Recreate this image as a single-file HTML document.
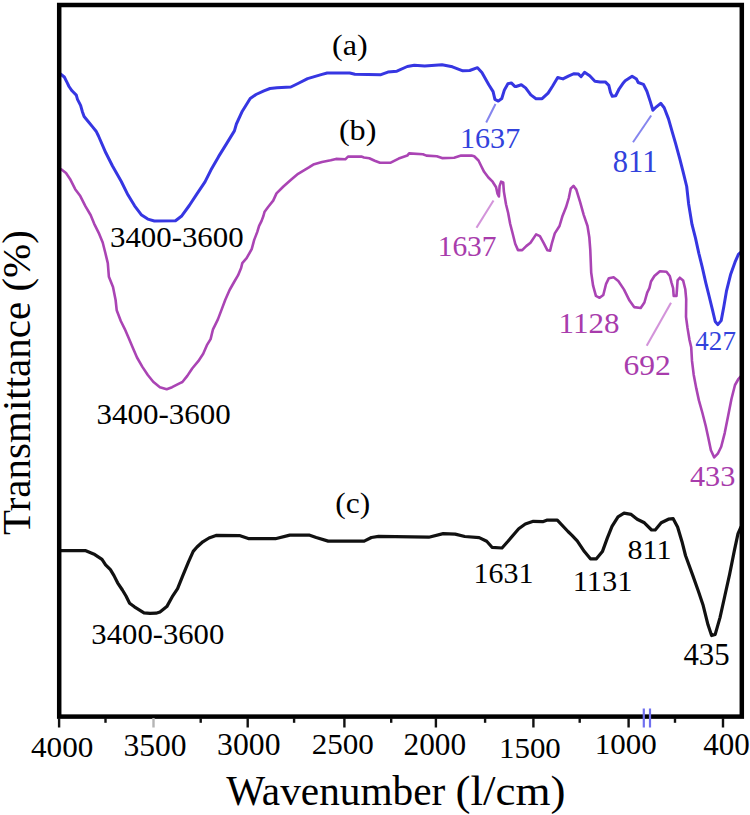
<!DOCTYPE html>
<html><head><meta charset="utf-8"><style>
html,body{margin:0;padding:0;background:#fff;width:750px;height:815px;overflow:hidden;}
svg{display:block;}
text{font-family:"Liberation Serif", serif;}
</style></head><body>
<svg width="750" height="815" viewBox="0 0 750 815" font-family='"Liberation Serif", serif'>
<rect width="750" height="815" fill="#fff"/>
<path d="M60.5,74.0 L64.3,77.0 L66.9,82.2 L69.0,86.5 L72.0,90.8 L76.3,95.1 L77.5,99.4 L80.6,105.4 L82.3,111.4 L84.1,116.5 L88.4,121.7 L92.6,126.9 L96.1,131.2 L98.5,136.0 L105.8,152.8 L112.5,166.0 L121.3,181.5 L127.9,194.8 L134.6,205.8 L141.2,214.7 L147.8,219.1 L154.4,221.0 L175.5,220.8 L181.4,216.3 L189.3,205.5 L197.1,193.7 L205.0,181.9 L210.9,170.1 L218.7,156.4 L226.6,143.6 L234.4,130.9 L236.4,124.0 L242.3,111.2 L250.2,98.5 L256.0,94.5 L263.9,90.8 L270.0,88.5 L276.9,87.7 L290.8,87.0 L298.0,83.5 L307.6,78.6 L322.0,74.4 L327.2,73.0 L349.7,73.0 L354.9,74.3 L380.9,74.7 L387.9,72.1 L396.9,71.2 L407.3,66.5 L414.3,65.3 L424.7,65.9 L442.0,64.7 L452.4,66.8 L462.8,70.8 L469.7,70.5 L477.5,67.7 L481.9,72.5 L488.8,84.7 L493.1,91.6 L494.9,99.4 L498.3,101.1 L501.8,98.5 L504.4,89.9 L507.9,83.8 L511.3,82.9 L514.8,86.4 L516.1,86.5 L521.3,84.8 L525.6,87.9 L530.8,94.9 L536.0,98.7 L542.1,98.7 L548.1,93.1 L552.5,86.2 L557.7,77.5 L562.9,78.9 L568.9,75.8 L574.1,73.7 L578.5,74.1 L581.1,76.7 L584.5,72.3 L589.7,75.8 L594.9,81.3 L600.1,81.9 L605.3,81.9 L608.8,85.3 L610.5,92.3 L612.3,96.3 L615.7,95.7 L619.2,88.8 L623.5,82.7 L625.2,80.8 L632.1,76.3 L636.5,79.1 L638.2,82.5 L643.4,84.3 L646.9,91.2 L650.3,101.6 L652.9,110.3 L656.4,106.8 L660.7,103.3 L664.2,107.7 L668.5,118.9 L672.0,131.1 L675.5,143.2 L679.8,158.8 L683.3,172.7 L686.7,186.5 L688.6,203.7 L692.0,224.4 L695.5,238.1 L698.9,253.6 L702.3,267.3 L705.8,282.8 L709.2,296.5 L712.6,310.3 L715.2,321.5 L717.8,324.6 L721.2,320.6 L723.8,306.8 L726.4,291.4 L730.7,274.2 L735.0,262.2 L738.4,254.4 L741.0,252.0" fill="none" stroke="#3636e2" stroke-width="3" stroke-linejoin="round" stroke-linecap="round"/>
<path d="M61.5,169.5 L66.0,173.0 L70.0,178.9 L75.2,189.2 L80.3,196.1 L85.5,206.4 L90.6,215.0 L94.1,223.6 L99.2,233.9 L102.7,242.5 L105.3,252.8 L107.8,263.1 L108.9,276.8 L113.0,287.1 L115.6,300.0 L116.7,310.2 L120.8,321.0 L124.8,329.1 L128.9,338.6 L132.9,348.0 L137.0,357.5 L142.4,366.9 L147.8,375.0 L153.2,381.8 L159.9,387.2 L166.7,389.2 L172.1,387.2 L180.0,383.1 L182.4,382.0 L187.3,375.9 L192.2,368.5 L198.3,361.2 L203.2,353.8 L206.9,345.2 L210.6,339.1 L213.0,329.3 L217.9,319.4 L221.6,309.6 L225.3,299.8 L229.6,290.0 L234.4,281.5 L238.0,275.4 L241.1,268.0 L242.3,263.1 L246.6,258.2 L251.7,249.1 L254.2,239.9 L257.3,231.9 L259.1,225.8 L261.6,220.9 L263.4,216.0 L264.6,211.7 L268.3,206.7 L273.2,200.6 L276.5,193.4 L283.4,186.5 L291.3,179.6 L298.1,173.8 L308.9,167.4 L313.3,164.6 L322.0,162.0 L330.7,160.3 L336.0,158.9 L345.3,159.3 L348.0,156.6 L361.3,156.6 L364.0,157.5 L369.3,158.2 L374.7,160.7 L380.0,162.7 L390.7,162.7 L398.7,158.6 L407.3,155.6 L409.1,153.4 L422.9,154.3 L426.4,155.6 L436.8,156.3 L442.0,158.1 L454.1,157.7 L461.1,155.6 L471.5,155.6 L474.2,156.3 L478.5,160.5 L481.3,166.2 L484.1,171.8 L488.4,177.5 L492.6,181.7 L496.1,187.3 L497.5,193.7 L498.9,196.5 L499.6,185.9 L501.1,181.7 L503.2,182.4 L503.9,191.6 L506.0,204.3 L508.1,212.7 L510.2,224.0 L512.4,232.5 L515.2,243.8 L518.0,250.1 L522.2,250.1 L526.5,245.9 L530.5,242.8 L536.1,234.4 L539.9,236.2 L543.6,242.8 L547.3,250.2 L550.1,250.6 L552.0,242.8 L554.8,233.4 L559.5,226.0 L562.3,216.6 L566.0,207.3 L568.8,198.0 L570.7,188.7 L573.5,185.9 L576.3,189.6 L580.0,201.7 L583.7,214.8 L587.5,226.0 L589.3,237.2 L590.3,250.2 L591.2,272.6 L593.1,285.7 L595.9,295.9 L599.6,297.8 L603.3,295.0 L606.1,283.8 L608.9,278.2 L613.6,277.3 L618.3,281.0 L623.9,289.4 L629.5,300.6 L634.1,307.1 L640.7,308.0 L644.4,302.5 L647.2,292.6 L649.4,288.1 L651.0,281.5 L654.4,276.0 L659.9,271.2 L666.5,271.8 L669.8,276.0 L671.5,282.6 L673.1,288.1 L673.7,295.9 L676.5,295.9 L677.6,280.4 L679.8,277.7 L683.1,280.4 L685.3,289.3 L686.2,299.2 L686.0,316.9 L687.5,327.9 L689.5,340.0 L691.2,347.2 L692.0,360.9 L693.7,374.7 L696.3,388.4 L698.9,400.4 L702.3,412.5 L705.8,426.2 L708.4,438.2 L710.9,450.3 L714.2,457.4 L717.8,453.7 L721.2,446.8 L724.7,433.1 L728.1,415.9 L731.5,398.7 L735.0,385.0 L738.4,379.0 L741.0,376.0" fill="none" stroke="#aa44b4" stroke-width="2.6" stroke-linejoin="round" stroke-linecap="round"/>
<path d="M59.8,550.6 L85.2,550.6 L94.8,554.6 L102.0,559.4 L105.6,564.8 L110.4,569.6 L114.0,575.6 L117.6,582.8 L122.4,590.0 L126.0,596.0 L129.6,603.2 L134.4,606.8 L144.0,612.8 L150.0,613.4 L156.0,613.2 L160.0,612.0 L166.8,606.6 L172.8,595.8 L177.6,588.6 L182.4,576.6 L188.4,562.2 L193.2,551.4 L197.0,547.0 L202.8,541.8 L209.0,538.0 L216.0,535.4 L239.4,535.6 L249.0,538.7 L275.4,538.7 L289.8,535.1 L309.0,535.1 L316.2,537.5 L328.2,541.1 L364.2,541.1 L371.4,537.5 L378.6,536.3 L428.8,537.2 L443.2,533.6 L455.2,534.1 L464.8,536.5 L479.2,537.6 L486.7,541.3 L492.0,547.3 L502.0,548.0 L508.0,541.3 L518.7,528.7 L525.3,524.0 L533.3,521.3 L542.7,521.7 L546.7,520.2 L557.3,520.2 L568.0,531.5 L572.0,535.3 L577.2,540.8 L584.4,551.6 L590.4,558.8 L596.4,558.8 L602.4,551.6 L607.2,538.4 L612.0,526.4 L618.0,516.8 L624.0,513.2 L631.2,514.4 L637.2,519.2 L644.4,522.8 L651.6,530.0 L655.2,530.0 L661.2,522.8 L668.4,519.2 L673.2,518.7 L677.6,527.0 L682.0,541.7 L685.5,555.5 L692.4,574.4 L698.4,591.2 L703.2,605.6 L708.0,624.8 L711.6,635.6 L715.2,634.4 L720.0,617.6 L724.8,596.0 L729.6,574.4 L734.4,550.4 L738.0,533.6 L741.0,527.0" fill="none" stroke="#111" stroke-width="3.2" stroke-linejoin="round" stroke-linecap="round"/>
<line x1="495.5" y1="104" x2="486.2" y2="122.5" stroke="#8585ee" stroke-width="2"/>
<line x1="651.2" y1="115.5" x2="633" y2="142.3" stroke="#8585ee" stroke-width="2"/>
<line x1="493.5" y1="200.5" x2="476.5" y2="227.7" stroke="#d394da" stroke-width="2.1"/>
<line x1="671" y1="302.8" x2="646.7" y2="345.7" stroke="#d394da" stroke-width="2.1"/>
<rect x="59.2" y="5" width="682.6" height="711.6" fill="none" stroke="#000" stroke-width="4.5"/>
<line x1="59.1" y1="718" x2="59.1" y2="727.5" stroke="#111" stroke-width="2.4"/><line x1="153.5" y1="718" x2="153.5" y2="727.5" stroke="#b5b5b5" stroke-width="2.4"/><line x1="247.7" y1="718" x2="247.7" y2="727.5" stroke="#111" stroke-width="2.4"/><line x1="344.4" y1="718" x2="344.4" y2="727.5" stroke="#111" stroke-width="2.4"/><line x1="435.9" y1="718" x2="435.9" y2="727.5" stroke="#111" stroke-width="2.4"/><line x1="533.4" y1="718" x2="533.4" y2="727.5" stroke="#111" stroke-width="2.4"/><line x1="628.6" y1="718" x2="628.6" y2="727.5" stroke="#111" stroke-width="2.4"/><line x1="723" y1="718" x2="723" y2="727.5" stroke="#111" stroke-width="2.4"/><line x1="105.5" y1="718" x2="105.5" y2="722.8" stroke="#111" stroke-width="2.4"/><line x1="200.7" y1="718" x2="200.7" y2="722.8" stroke="#111" stroke-width="2.4"/><line x1="294.1" y1="718" x2="294.1" y2="722.8" stroke="#111" stroke-width="2.4"/><line x1="391.2" y1="718" x2="391.2" y2="722.8" stroke="#111" stroke-width="2.4"/><line x1="485.1" y1="718" x2="485.1" y2="722.8" stroke="#111" stroke-width="2.4"/><line x1="579.7" y1="718" x2="579.7" y2="722.8" stroke="#111" stroke-width="2.4"/><line x1="675" y1="718" x2="675" y2="722.8" stroke="#111" stroke-width="2.4"/>
<line x1="643.8" y1="708.5" x2="643.8" y2="727.5" stroke="#7070f0" stroke-width="2.2"/>
<line x1="650" y1="708.5" x2="650" y2="727.5" stroke="#7070f0" stroke-width="2.2"/>
<text transform="translate(30.98,756.79) scale(0.3119,0.3030)" fill="#000" font-size="100">4000</text><text transform="translate(123.52,756.38) scale(0.3157,0.3104)" fill="#000" font-size="100">3500</text><text transform="translate(217.12,755.27) scale(0.3168,0.3149)" fill="#000" font-size="100">3000</text><text transform="translate(311.66,754.29) scale(0.3109,0.3045)" fill="#000" font-size="100">2500</text><text transform="translate(403.55,754.78) scale(0.3130,0.3119)" fill="#000" font-size="100">2000</text><text transform="translate(499.02,757.72) scale(0.3091,0.2897)" fill="#000" font-size="100">1500</text><text transform="translate(594.71,754.31) scale(0.3102,0.2926)" fill="#000" font-size="100">1000</text><text transform="translate(703.18,755.37) scale(0.3100,0.3134)" fill="#000" font-size="100">400</text><text transform="translate(332.01,54.56) scale(0.3214,0.2922)" fill="#000" font-size="100">(a)</text><text transform="translate(338.91,140.33) scale(0.3213,0.2889)" fill="#000" font-size="100">(b)</text><text transform="translate(335.34,513.30) scale(0.3146,0.2856)" fill="#000" font-size="100">(c)</text><text transform="translate(109.96,246.89) scale(0.3085,0.3045)" fill="#000" font-size="100">3400-3600</text><text transform="translate(96.55,424.09) scale(0.3101,0.3045)" fill="#000" font-size="100">3400-3600</text><text transform="translate(91.37,643.61) scale(0.3068,0.2970)" fill="#000" font-size="100">3400-3600</text><text transform="translate(459.99,148.11) scale(0.3011,0.2941)" fill="#3242dc" font-size="100">1637</text><text transform="translate(612.78,172.48) scale(0.3051,0.3088)" fill="#3242dc" font-size="100">811</text><text transform="translate(695.36,350.30) scale(0.2703,0.2723)" fill="#3242dc" font-size="100">427</text><text transform="translate(437.65,255.91) scale(0.2947,0.2926)" fill="#a83cac" font-size="100">1637</text><text transform="translate(558.61,332.69) scale(0.3104,0.3029)" fill="#a83cac" font-size="100">1128</text><text transform="translate(623.44,375.10) scale(0.3157,0.2985)" fill="#a83cac" font-size="100">692</text><text transform="translate(689.89,485.90) scale(0.3028,0.2970)" fill="#a83cac" font-size="100">433</text><text transform="translate(473.60,582.70) scale(0.2995,0.3000)" fill="#000" font-size="100">1631</text><text transform="translate(572.66,591.00) scale(0.3044,0.2985)" fill="#000" font-size="100">1131</text><text transform="translate(627.60,559.44) scale(0.3000,0.2824)" fill="#000" font-size="100">811</text><text transform="translate(683.38,665.29) scale(0.3083,0.3091)" fill="#000" font-size="100">435</text><text transform="translate(226.2,805) scale(0.972,1)" fill="#000" font-size="42.5" text-anchor="start">Wavenumber</text><text transform="translate(455.5,805) scale(1.06,1)" fill="#000" font-size="42.5" text-anchor="start">(l/cm)</text><text transform="translate(30,382.5) rotate(-90)" fill="#000" font-size="41" text-anchor="middle">Transmittance (%)</text>
</svg>
</body></html>
